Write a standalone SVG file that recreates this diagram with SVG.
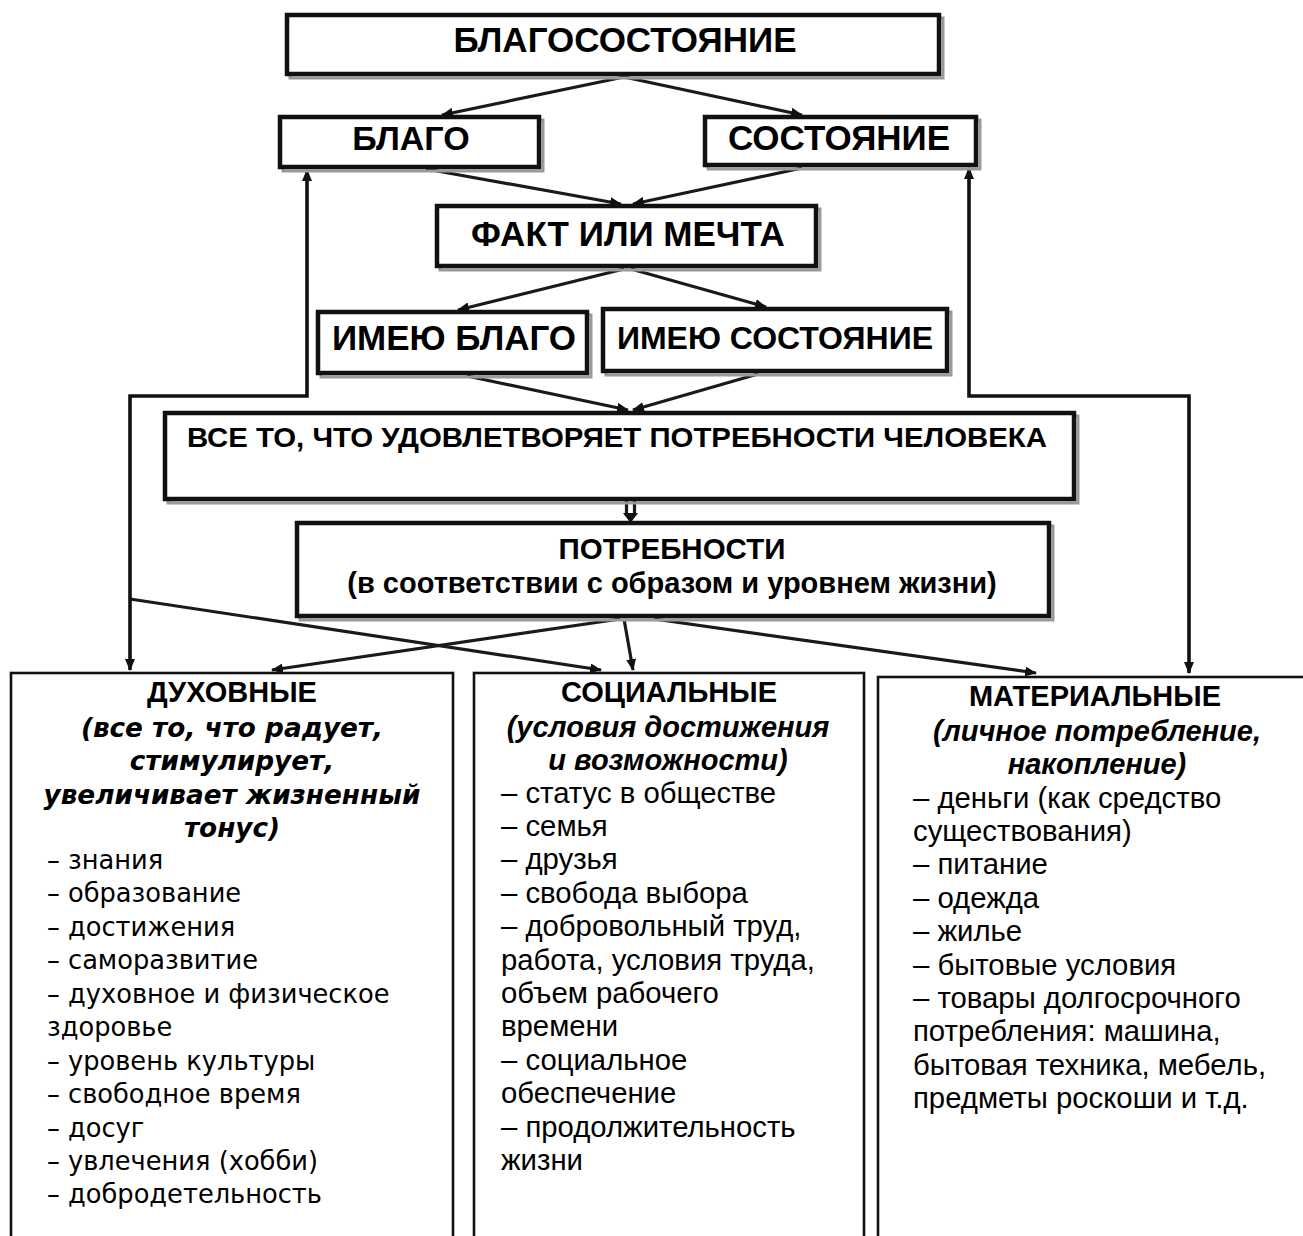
<svg xmlns="http://www.w3.org/2000/svg" width="1303" height="1236" viewBox="0 0 1303 1236">
<defs>
<marker id="ah" markerWidth="12" markerHeight="10" refX="11" refY="5" orient="auto-start-reverse" markerUnits="userSpaceOnUse"><path d="M0,0 L12,5 L0,10 z" fill="#111"/></marker>
</defs>
<style>
.bg{fill:#fff}
.box{fill:#fff;stroke:#111;stroke-width:4.5}
.shd{fill:none;stroke:#9a9a9a;stroke-width:3}
.col{fill:#fff;stroke:#111;stroke-width:2.6}
.t{font-family:"Liberation Sans",Arial,sans-serif;font-weight:bold;fill:#000;text-anchor:middle}
.h{font-family:"Liberation Sans",Arial,sans-serif;font-weight:bold;font-size:29px;fill:#000;text-anchor:middle}
.i1{font-family:"DejaVu Sans",Verdana,sans-serif;font-weight:bold;font-style:italic;font-size:26.3px;fill:#000;text-anchor:middle}
.i2{font-family:"Liberation Sans",Arial,sans-serif;font-weight:bold;font-style:italic;font-size:29px;fill:#000;text-anchor:middle}
.l1{font-family:"DejaVu Sans",Verdana,sans-serif;font-size:25.7px;fill:#000}
.l2{font-family:"Liberation Sans",Arial,sans-serif;font-size:29.3px;fill:#000}
.c{fill:none;stroke:#1a1a1a;stroke-width:3.2}
.cv{fill:none;stroke:#111;stroke-width:3.6}
</style>
<rect class="bg" x="0" y="0" width="1303" height="1236"/>

<g id="connectors">
<path class="c" d="M624,77 L442,115" marker-end="url(#ah)"/>
<path class="c" d="M624,77 L802,115" marker-end="url(#ah)"/>
<path class="c" d="M426,169 L621,204" marker-end="url(#ah)"/>
<path class="c" d="M802,168 L633,204" marker-end="url(#ah)"/>
<path class="c" d="M624,269 L458,310" marker-end="url(#ah)"/>
<path class="c" d="M631,269 L766,307" marker-end="url(#ah)"/>
<path class="c" d="M467,376 L628,410" marker-end="url(#ah)"/>
<path class="c" d="M758,374 L633,410" marker-end="url(#ah)"/>
<path class="c" d="M626.5,501 L626.5,516 M634.5,501 L634.5,516" stroke-width="2.6"/>
<path d="M623,513 L638,513 L630.5,523 z" fill="#111"/>
<path class="c" d="M620,619 L272,670" marker-end="url(#ah)"/>
<path class="c" d="M624,619 L633,670" marker-end="url(#ah)"/>
<path class="c" d="M654,619 L1036,673" marker-end="url(#ah)"/>
<path class="c" d="M130,599 L601,670" marker-end="url(#ah)"/>
<path class="cv" d="M130,670 L130,396 L307,396 L307,170" marker-start="url(#ah)" marker-end="url(#ah)"/>
<path class="cv" d="M1189,673 L1189,396 L969,396 L969,168" marker-start="url(#ah)" marker-end="url(#ah)"/>
</g>

<g id="n-blagosostoyanie">
<rect class="shd" x="290" y="18" width="653" height="60"/>
<rect class="box" x="287" y="15" width="652" height="59"/>
<text class="t" x="625" y="52" font-size="35">БЛАГОСОСТОЯНИЕ</text>
</g>
<g id="n-blago">
<rect class="shd" x="283" y="120" width="260" height="51"/>
<rect class="box" x="280" y="117" width="259" height="50"/>
<text class="t" x="411" y="150" font-size="34">БЛАГО</text>
</g>
<g id="n-sostoyanie">
<rect class="shd" x="708" y="120" width="272" height="49"/>
<rect class="box" x="705" y="117" width="271" height="48"/>
<text class="t" x="839" y="150" font-size="35">СОСТОЯНИЕ</text>
</g>
<g id="n-fakt">
<rect class="shd" x="440" y="209" width="380" height="61"/>
<rect class="box" x="437" y="206" width="379" height="60"/>
<text class="t" x="628" y="246" font-size="35">ФАКТ ИЛИ МЕЧТА</text>
</g>
<g id="n-imeyu-blago">
<rect class="shd" x="321" y="315" width="270" height="62"/>
<rect class="box" x="318" y="312" width="269" height="61"/>
<text class="t" x="454" y="350" font-size="35">ИМЕЮ БЛАГО</text>
</g>
<g id="n-imeyu-sostoyanie">
<rect class="shd" x="606" y="312" width="345" height="63"/>
<rect class="box" x="603" y="309" width="344" height="62"/>
<text class="t" x="775" y="349" font-size="32">ИМЕЮ СОСТОЯНИЕ</text>
</g>
<g id="n-vse-to">
<rect class="shd" x="168" y="416" width="910" height="87"/>
<rect class="box" x="165" y="413" width="909" height="86"/>
<text class="t" x="617" y="447" font-size="28" textLength="860" lengthAdjust="spacingAndGlyphs">ВСЕ ТО, ЧТО УДОВЛЕТВОРЯЕТ ПОТРЕБНОСТИ ЧЕЛОВЕКА</text>
</g>
<g id="n-potrebnosti">
<rect class="shd" x="300" y="526" width="753" height="94"/>
<rect class="box" x="297" y="523" width="752" height="93"/>
<text class="t" x="672" y="559" font-size="29.5">ПОТРЕБНОСТИ</text>
<text class="t" x="672" y="593" font-size="29">(в соответствии с образом и уровнем жизни)</text>
</g>

<g id="n-duhovnye">
<rect class="col" x="11" y="673" width="442" height="580"/>
<text class="h" x="232" y="702">ДУХОВНЫЕ</text>
<text class="i1" x="232" y="737">(все то, что радует,</text>
<text class="i1" x="232" y="770">стимулирует,</text>
<text class="i1" x="232" y="804">увеличивает жизненный</text>
<text class="i1" x="232" y="837">тонус)</text>
<text class="l1" x="47" y="869">– знания</text>
<text class="l1" x="47" y="902">– образование</text>
<text class="l1" x="47" y="936">– достижения</text>
<text class="l1" x="47" y="969">– саморазвитие</text>
<text class="l1" x="47" y="1003">– духовное и физическое</text>
<text class="l1" x="47" y="1036">здоровье</text>
<text class="l1" x="47" y="1070">– уровень культуры</text>
<text class="l1" x="47" y="1103">– свободное время</text>
<text class="l1" x="47" y="1137">– досуг</text>
<text class="l1" x="47" y="1170">– увлечения (хобби)</text>
<text class="l1" x="47" y="1203">– добродетельность</text>
</g>

<g id="n-socialnye">
<rect class="col" x="474" y="673" width="390" height="580"/>
<text class="h" x="669" y="702">СОЦИАЛЬНЫЕ</text>
<text class="i2" x="668" y="737">(условия достижения</text>
<text class="i2" x="668" y="770">и возможности)</text>
<text class="l2" x="501" y="803">– статус в обществе</text>
<text class="l2" x="501" y="836">– семья</text>
<text class="l2" x="501" y="869">– друзья</text>
<text class="l2" x="501" y="903">– свобода выбора</text>
<text class="l2" x="501" y="936">– добровольный труд,</text>
<text class="l2" x="501" y="970">работа, условия труда,</text>
<text class="l2" x="501" y="1003">объем рабочего</text>
<text class="l2" x="501" y="1036">времени</text>
<text class="l2" x="501" y="1070">– социальное</text>
<text class="l2" x="501" y="1103">обеспечение</text>
<text class="l2" x="501" y="1137">– продолжительность</text>
<text class="l2" x="501" y="1170">жизни</text>
</g>

<g id="n-materialnye">
<rect class="col" x="878" y="677" width="440" height="580"/>
<text class="h" x="1095" y="706">МАТЕРИАЛЬНЫЕ</text>
<text class="i2" x="1097" y="741">(личное потребление,</text>
<text class="i2" x="1097" y="774">накопление)</text>
<text class="l2" x="913" y="808">– деньги (как средство</text>
<text class="l2" x="913" y="841">существования)</text>
<text class="l2" x="913" y="874">– питание</text>
<text class="l2" x="913" y="908">– одежда</text>
<text class="l2" x="913" y="941">– жилье</text>
<text class="l2" x="913" y="975">– бытовые условия</text>
<text class="l2" x="913" y="1008">– товары долгосрочного</text>
<text class="l2" x="913" y="1041">потребления: машина,</text>
<text class="l2" x="913" y="1075">бытовая техника, мебель,</text>
<text class="l2" x="913" y="1108">предметы роскоши и т.д.</text>
</g>
</svg>
